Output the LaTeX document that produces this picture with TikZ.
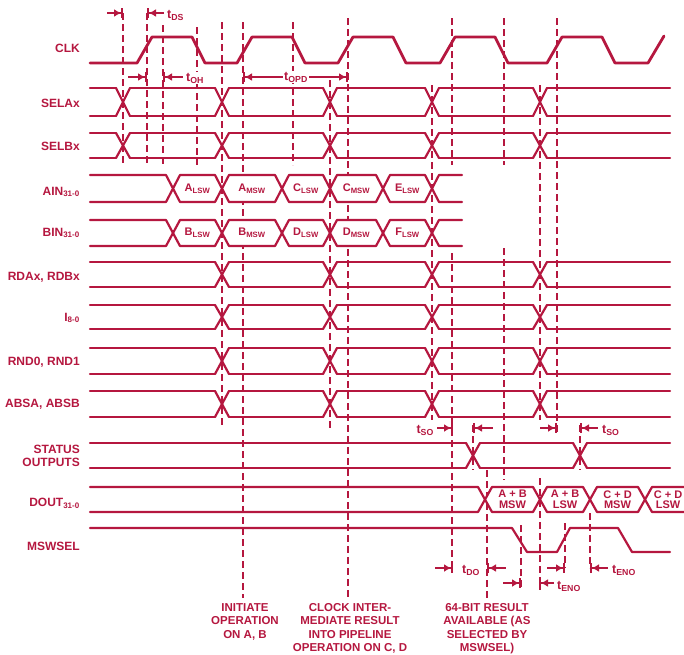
\documentclass[tikz,border=0pt]{standalone}
\usepackage{fontspec}
\setmainfont{Liberation Sans}
\usepackage{tikz}
\usetikzlibrary{arrows.meta}
\definecolor{tdred}{HTML}{B5173F}
\tikzset{
  sig/.style={draw=tdred,line width=2.2pt,line join=round,line cap=round},
  clk/.style={sig,line width=2.8pt},
  guide/.style={draw=tdred,line width=1.6pt,dash pattern=on 7pt off 4pt},
  lbl/.style={text=tdred,font=\fontsize{12}{13.5}\selectfont\bfseries,anchor=east,align=right,inner sep=0pt},
  cellt/.style={text=tdred,font=\fontsize{11}{10.5}\selectfont\bfseries,align=center,inner sep=0pt},
  tlbl/.style={text=tdred,font=\fontsize{12.5}{12}\selectfont\bfseries,inner sep=1pt},
  note/.style={text=tdred,font=\fontsize{11.5}{13.5}\selectfont\bfseries,align=center,anchor=north,inner sep=0pt},
  tin/.style={draw=tdred,line width=2pt,-{Latex[length=7pt,width=8pt]Bar[width=10pt]}},
  tout/.style={draw=tdred,line width=2pt,{Bar[width=10pt]Latex[length=7pt,width=8pt]}-},
  tspan/.style={draw=tdred,line width=2pt,{Bar[width=10pt]Latex[length=7pt,width=8pt]}-{Latex[length=7pt,width=8pt]Bar[width=10pt]}},
}
% control row: top, bottom, crossings
\newcommand\ctlrow[3]{%
  \foreach \c [remember=\c as \p (initially 83)] in {#3,677}{%
    \draw[sig] (\p+7,#1) -- (\c-7,#1) (\p+7,#2) -- (\c-7,#2);}
  \foreach \c in {#3}{\draw[sig] (\c-7,#1) -- (\c+7,#2) (\c-7,#2) -- (\c+7,#1);}}
% data cell: name, left, right, top, bottom, text
\newcommand\datacell[6]{%
  \draw[sig,fill=white] (#2,{(#4+#5)/2}) -- (#2+7,#4) -- (#3-7,#4) -- (#3,{(#4+#5)/2}) -- (#3-7,#5) -- (#2+7,#5) -- cycle;
  \node[cellt] (#1) at ({(#2+#3)/2},{(#4+#5)/2}) {#6};}

\begin{document}
\begin{tikzpicture}[x=1pt,y=-1pt]
  \useasboundingbox (0,0) rectangle (684,654);
  % guide lines
  \foreach \x/\ya/\yb in {123/13/165,147/13/165,163/25/165,197/27/165,222/22/428,243/22/598,
      293/22/165,330/80/428,348/18/598,432/85/420,452/18/165,452/253/570,473/425/470,487/470/598,
      504/18/165,504/248/480,521/525/590,540/85/420,540/478/590,557/18/433,565/523/568,580/425/470,590/513/568}
    \draw[guide] (\x,\ya) -- (\x,\yb);
  % row labels
  \node[lbl] (lclk) at (80,48) {CLK};
  \node[lbl] (lsela) at (80,103) {SELAx};
  \node[lbl] (lselb) at (80,146) {SELBx};
  \node[lbl] (lain) at (80,192) {AIN\textsubscript{31-0}};
  \node[lbl] (lbin) at (80,233) {BIN\textsubscript{31-0}};
  \node[lbl] (lrda) at (80,277) {RDAx, RDBx};
  \node[lbl] (li) at (80,318) {I\textsubscript{8-0}};
  \node[lbl] (lrnd) at (80,362) {RND0, RND1};
  \node[lbl] (labs) at (80,404) {ABSA, ABSB};
  \node[lbl] (lstat) at (80,456) {STATUS\\OUTPUTS};
  \node[lbl] (ldout) at (80,503) {DOUT\textsubscript{31-0}};
  \node[lbl] (lmsw) at (80,546) {MSWSEL};
  % clock
  \draw[clk] (90,63) \foreach \r in {137,237,338,440,547}{ -- (\r,63) -- (\r+15,37) -- (\r+55,37) -- (\r+68,63)} -- (648,63) -- (664,36);
  % control rows
  \ctlrow{88}{116}{123,222,330,432,540}
  \ctlrow{133}{158}{123,222,330,432,540}
  \ctlrow{262}{287}{222,330,432,540}
  \ctlrow{305}{329}{222,330,432,540}
  \ctlrow{348}{374}{222,330,432,540}
  \ctlrow{391}{417}{222,330,432,540}
  \ctlrow{443}{468}{473,580}
  % operand buses
  \draw[sig] (90,175) -- (166,175) -- (173,188.5) -- (166,202) -- (90,202);
  \draw[sig,fill=white] (462,175) -- (439,175) -- (432,188.5) -- (439,202) -- (462,202);
  \datacell{alsw}{173}{222}{175}{202}{A\textsubscript{LSW}}
  \datacell{amsw}{222}{282}{175}{202}{A\textsubscript{MSW}}
  \datacell{clsw}{282}{330}{175}{202}{C\textsubscript{LSW}}
  \datacell{cmsw}{330}{383}{175}{202}{C\textsubscript{MSW}}
  \datacell{elsw}{383}{432}{175}{202}{E\textsubscript{LSW}}
  \draw[sig] (90,220) -- (166,220) -- (173,233) -- (166,246) -- (90,246);
  \draw[sig,fill=white] (462,220) -- (439,220) -- (432,233) -- (439,246) -- (462,246);
  \datacell{blsw}{173}{222}{220}{246}{B\textsubscript{LSW}}
  \datacell{bmsw}{222}{282}{220}{246}{B\textsubscript{MSW}}
  \datacell{dlsw}{282}{330}{220}{246}{D\textsubscript{LSW}}
  \datacell{dmsw}{330}{383}{220}{246}{D\textsubscript{MSW}}
  \datacell{flsw}{383}{432}{220}{246}{F\textsubscript{LSW}}
  % result bus
  \draw[sig] (90,487) -- (478,487) -- (485,499.5) -- (478,512) -- (90,512);
  \datacell{abm}{485}{540}{487}{512}{A + B\\MSW}
  \datacell{abl}{540}{590}{487}{512}{A + B\\LSW}
  \datacell{cdm}{590}{645}{487}{512}{C + D\\MSW}
  \draw[sig,fill=white] (686,487) -- (652,487) -- (645,499.5) -- (652,512) -- (686,512);
  \node[cellt] (cdl) at (668,499.5) {C + D\\LSW};
  % mswsel
  \draw[sig] (90,528) -- (512,528) -- (527,552) -- (557,552) -- (570,528) -- (618,528) -- (632,552) -- (670,552);
  % timing marks
  \draw[tin] (107,13) -- (123,13); \draw[tout] (147,13) -- (164,13);
  \node[tlbl,anchor=west] (tds) at (166,15) {t\textsubscript{DS}};
  \draw[tin] (128,77) -- (147,77); \draw[tout] (163,77) -- (183,77);
  \node[tlbl,anchor=west,fill=white] (toh) at (185,78) {t\textsubscript{OH}};
  \draw[tspan] (243,77) -- (348,77);
  \node[tlbl,fill=white] (topd) at (296,77) {t\textsubscript{OPD}};
  \draw[tin] (437,428) -- (453,428); \draw[tout] (473,428) -- (493,428);
  \node[tlbl,anchor=east] (tso1) at (435,430) {t\textsubscript{SO}};
  \draw[tin] (540,428) -- (557,428); \draw[tout] (580,428) -- (598,428);
  \node[tlbl,anchor=west] (tso2) at (601,430) {t\textsubscript{SO}};
  \draw[tin] (435,568) -- (453,568); \draw[tout] (487,568) -- (506,568);
  \node[tlbl] (tdo) at (471,570) {t\textsubscript{DO}};
  \draw[tin] (503,583) -- (521,583); \draw[tout] (539,583) -- (554,583);
  \node[tlbl,anchor=west] (teno1) at (556,586) {t\textsubscript{ENO}};
  \draw[tin] (547,568) -- (565,568); \draw[tout] (590,568) -- (608,568);
  \node[tlbl,anchor=west] (teno2) at (611,570) {t\textsubscript{ENO}};
  % notes
  \node[note] (n1) at (245,603) {INITIATE\\OPERATION\\ON A, B};
  \node[note] (n2) at (350,603) {CLOCK INTER-\\MEDIATE RESULT\\INTO PIPELINE\\OPERATION ON C, D};
  \node[note] (n3) at (487,603) {64-BIT RESULT\\AVAILABLE (AS\\SELECTED BY\\MSWSEL)};
\end{tikzpicture}
\end{document}
